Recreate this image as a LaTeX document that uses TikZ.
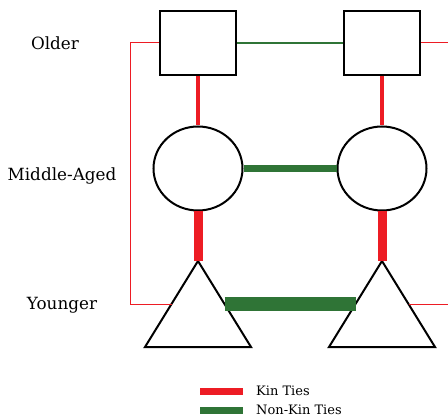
\documentclass[tikz,border=0pt]{standalone}
\usepackage{fontspec}
\setmainfont{DejaVu Serif}
\usetikzlibrary{shapes.geometric,calc}
\definecolor{kinred}{HTML}{ED1C24}
\definecolor{nongreen}{HTML}{2F7436}
\begin{document}
\begin{tikzpicture}[x=1pt,y=-1pt,
  sq/.style={draw,line width=2pt,minimum width=76pt,minimum height=64pt,inner sep=0pt},
  ci/.style={draw,ellipse,line width=2pt,minimum width=89pt,minimum height=84pt,inner sep=0pt},
  tri/.style={draw,line width=2pt,line join=miter},
  kin/.style={kinred},
  non/.style={nongreen},
  lbl/.style={font=\fontsize{16.8}{18}\selectfont},
  leg/.style={font=\fontsize{13}{15}\selectfont,anchor=west,inner sep=0pt}]
\useasboundingbox (0,0) rectangle (448,420);
% squares
\node[sq] (sqL) at (198,43) {};
\node[sq] (sqR) at (382,43) {};
% circles
\node[ci] (ciL) at (198,168.5) {};
\node[ci] (ciR) at (382,168.5) {};
% triangles
\coordinate (tLA) at (198,261);
\coordinate (tLB1) at (145,347);
\coordinate (tLB2) at (251,347);
\coordinate (tRA) at (382,261);
\coordinate (tRB1) at (329,347);
\coordinate (tRB2) at (435,347);
\draw[tri] (tLA) -- (tLB1) -- (tLB2) -- cycle;
\draw[tri] (tRA) -- (tRB1) -- (tRB2) -- cycle;
\coordinate (tLl) at ($(tLA)!0.5!(tLB1)$);
\coordinate (tLr) at ($(tLA)!0.5!(tLB2)$);
\coordinate (tRl) at ($(tRA)!0.5!(tRB1)$);
\coordinate (tRr) at ($(tRA)!0.5!(tRB2)$);
% kin ties vertical
\draw[kin,line width=4.5pt] (sqL.south) -- (ciL.north);
\draw[kin,line width=4.5pt] (sqR.south) -- (ciR.north);
\draw[kin,line width=9pt] (ciL.south) -- (tLA);
\draw[kin,line width=9pt] (ciR.south) -- (tRA);
% outer kin ties
\coordinate (oL1) at (130,43);
\coordinate (oL2) at (130,304);
\coordinate (oR1) at (449,43);
\coordinate (oR2) at (449,304);
\draw[kin,line width=1pt] (sqL.west) -- (oL1) -- (oL2) -- (tLl);
\draw[kin,line width=1pt] (sqR.east) -- (oR1);
\draw[kin,line width=1pt] (tRr) -- (oR2);
% non-kin ties
\draw[non,line width=2.5pt] (sqL.east) -- (sqR.west);
\draw[non,line width=7pt] (ciL.east) -- (ciR.west);
\draw[non,line width=14pt] (tLr) -- (tRl);
% labels
\node[lbl] (older) at (55,43) {Older};
\node[lbl] (middle) at (62,176) {Middle-Aged};
\node[lbl] (younger) at (62,305) {Younger};
% legend
\coordinate (k1) at (200,391);
\coordinate (k2) at (243,391);
\coordinate (n1) at (200,410);
\coordinate (n2) at (243,410);
\draw[kin,line width=7pt] (k1) -- (k2);
\draw[non,line width=7pt] (n1) -- (n2);
\node[leg] (kt) at (256,391) {Kin Ties};
\node[leg] (nt) at (256,410) {Non-Kin Ties};
\end{tikzpicture}
\end{document}
